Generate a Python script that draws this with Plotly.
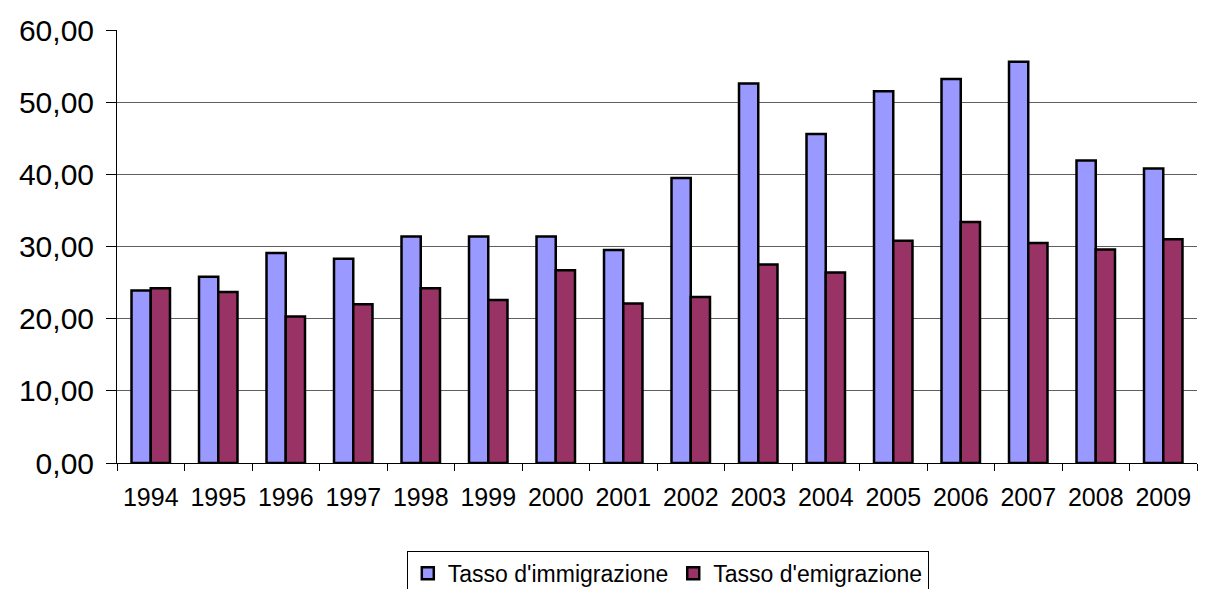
import plotly.graph_objects as go

# Dati
anni = ["1994", "1995", "1996", "1997", "1998", "1999", "2000", "2001",
        "2002", "2003", "2004", "2005", "2006", "2007", "2008", "2009"]
immigrazione = [23.9, 25.8, 29.1, 28.3, 31.4, 31.4, 31.4, 29.5,
                39.5, 52.6, 45.6, 51.5, 53.2, 55.6, 41.9, 40.8]
emigrazione = [24.2, 23.7, 20.3, 22.0, 24.2, 22.6, 26.7, 22.1,
               23.0, 27.5, 26.4, 30.8, 33.4, 30.5, 29.6, 31.0]

fig = go.Figure()
fig.add_trace(go.Bar(x=anni, y=immigrazione, name="Tasso d'immigrazione",
                     marker=dict(color="#9999ff", line=dict(color="black", width=2.5))))
fig.add_trace(go.Bar(x=anni, y=emigrazione, name="Tasso d'emigrazione",
                     marker=dict(color="#993366", line=dict(color="black", width=2.5))))

# la pagina ha 8px di margine nel body: figura un po' più piccola
fig.update_layout(
    width=1209, height=581,
    margin=dict(l=109, r=20, t=22, b=126, autoexpand=False),
    plot_bgcolor="white", paper_bgcolor="white",
    font=dict(family="Liberation Sans, Arial", color="black"),
    separators=",.",
    barmode="group", bargap=0.43, bargroupgap=0,
    showlegend=True,
    legend=dict(orientation="h", x=0.51, xanchor="center", y=-0.203, yanchor="top",
                bordercolor="black", borderwidth=1, font=dict(size=23),
                itemwidth=30, tracegroupgap=0),
)
fig.update_yaxes(range=[0, 60], dtick=10, tickformat=".2f",
                 showgrid=True, gridcolor="#606060", gridwidth=1,
                 showline=True, linecolor="black", linewidth=1,
                 ticks="outside", ticklen=10, tickcolor="black",
                 tickfont=dict(size=30), zeroline=False, automargin=False,
                 ticklabelstandoff=6)
fig.update_xaxes(showline=True, linecolor="black", linewidth=1,
                 ticks="outside", tickson="boundaries", ticklen=7, tickcolor="black",
                 tickfont=dict(size=25), ticklabelstandoff=12, automargin=False)

fig.write_html("out.html")
